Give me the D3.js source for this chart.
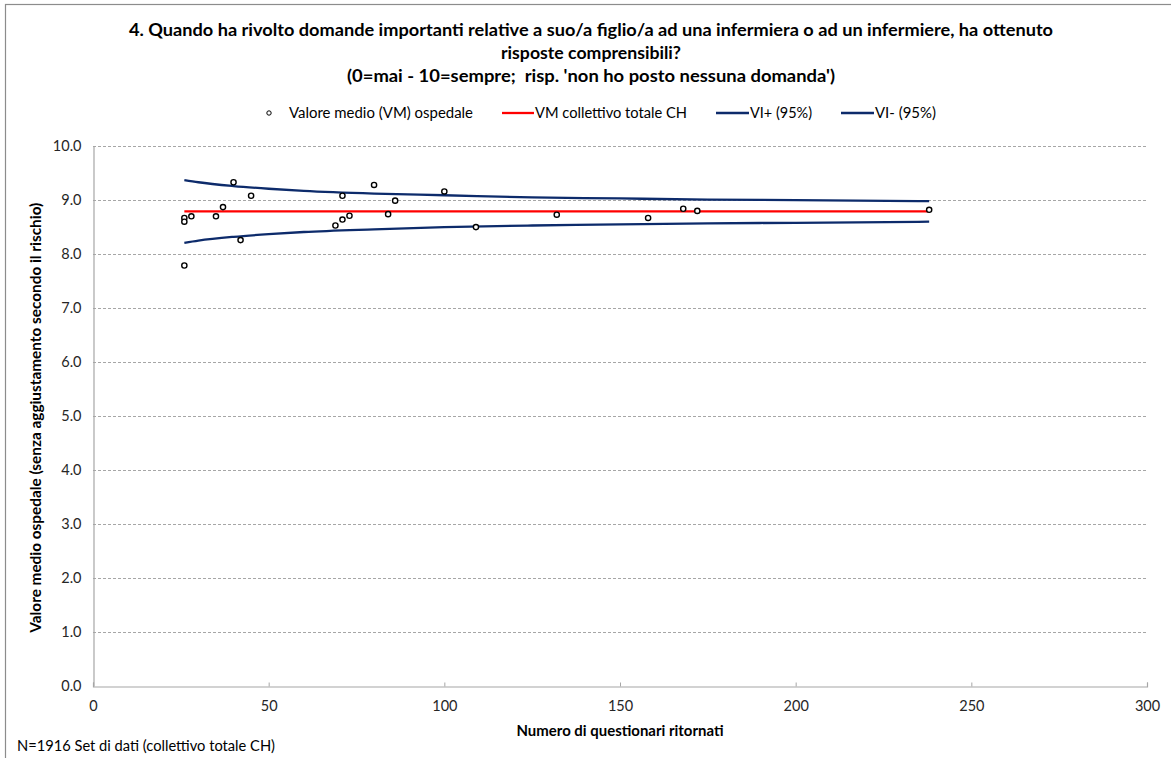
<!DOCTYPE html>
<html><head><meta charset="utf-8">
<script src="https://cdn.jsdelivr.net/npm/d3@7"></script>
<style>
html,body{margin:0;padding:0;background:#fff;}
svg{display:block;font-family:Lato,"Liberation Sans",Arial,sans-serif;}
text{white-space:pre;}
</style></head>
<body>
<svg id="chart" width="1171" height="758"></svg>
<script>
// Hospital points: number of questionnaires returned, mean value
const hospN   = [26, 26, 28, 35, 37, 40, 42, 45, 26, 69, 71, 71, 73, 80, 84, 86, 100, 109, 132, 158, 168, 172, 238];
const hospVal = [8.66, 8.59, 8.69, 8.69, 8.86, 9.32, 8.25, 9.07, 7.78, 8.52, 9.07, 8.63, 8.70, 9.27, 8.73, 8.98, 9.15, 8.49, 8.72, 8.66, 8.83, 8.79, 8.81];
// Overall mean (collettivo totale CH)
const meanN   = [26, 238];
const meanVal = [8.78, 8.78];
// Confidence limits
const ciN     = [26, 30, 40, 50, 60, 80, 100, 125, 150, 175, 200, 238];
const ciUpper = [9.36, 9.32, 9.25, 9.20, 9.16, 9.11, 9.08, 9.04, 9.02, 9.00, 8.99, 8.97];
const ciLower = [8.20, 8.24, 8.31, 8.36, 8.40, 8.45, 8.49, 8.52, 8.54, 8.56, 8.57, 8.59];
// Axis ticks
const xTicks = [0, 50, 100, 150, 200, 250, 300];
const yTicks = [0, 1, 2, 3, 4, 5, 6, 7, 8, 9, 10];

const titleLines = [
  "4. Quando ha rivolto domande importanti relative a suo/a figlio/a ad una infermiera o ad un infermiere, ha ottenuto",
  "risposte comprensibili?",
  "(0=mai - 10=sempre;  risp. 'non ho posto nessuna domanda')"
];
const legendLabels = ["Valore medio (VM) ospedale", "VM collettivo totale CH", "VI+ (95%)", "VI- (95%)"];

const svg = d3.select("#chart");
const m = {left: 93, right: 1147, top: 145.5, bottom: 686};
const x = d3.scaleLinear().domain([0, 300]).range([m.left, m.right]);
const y = d3.scaleLinear().domain([0, 10]).range([m.bottom, m.top]);

// outer chart border (left/top visible)
svg.append("rect").attr("x", 5.5).attr("y", 4.5).attr("width", 1200).attr("height", 800)
  .attr("fill", "none").attr("stroke", "#8c8c8c").attr("stroke-width", 1.2);

// title
const tw = [924, 180, 488];
svg.append("g").selectAll("text").data(titleLines).join("text")
  .attr("x", 591).attr("y", (d, i) => 36 + i * 23)
  .attr("text-anchor", "middle").attr("font-size", 16.5).attr("font-weight", "bold")
  .attr("fill", "#000")
  .attr("textLength", (d, i) => tw[i]).attr("lengthAdjust", "spacingAndGlyphs")
  .text(d => d);

// grid
svg.append("g").selectAll("line").data(yTicks.filter(d => d > 0)).join("line")
  .attr("x1", m.left).attr("x2", m.right)
  .attr("y1", d => Math.round(y(d)) + 0.5).attr("y2", d => Math.round(y(d)) + 0.5)
  .attr("stroke", "#a6a6a6").attr("stroke-dasharray", "3,2").attr("stroke-width", 1);

// axes
const xAxis = svg.append("g").attr("transform", `translate(0,${m.bottom + 0.5})`)
  .call(d3.axisBottom(x).tickValues(xTicks).tickSize(-4).tickPadding(14).tickFormat(d3.format("d")));
const yAxis = svg.append("g").attr("transform", `translate(${m.left + 0.5},0)`)
  .call(d3.axisLeft(y).tickValues(yTicks).tickSize(0).tickPadding(12).tickFormat(d3.format(".1f")));
[xAxis, yAxis].forEach(a => {
  a.select(".domain").attr("stroke", "#a6a6a6").attr("stroke-width", 1.2);
  a.selectAll(".tick line").attr("stroke", "#a6a6a6");
  a.selectAll(".tick text").attr("font-size", 14.5).attr("fill", "#262626")
    .attr("font-family", "Lato, 'Liberation Sans', Arial, sans-serif");
});

// axis titles
svg.append("text").attr("x", x(150)).attr("y", 736).attr("text-anchor", "middle")
  .attr("font-size", 15).attr("font-weight", "bold").attr("fill", "#000")
  .attr("textLength", 207).attr("lengthAdjust", "spacingAndGlyphs")
  .text("Numero di questionari ritornati");
svg.append("text").attr("transform", `translate(41,${(m.top + m.bottom) / 2 + 2}) rotate(-90)`)
  .attr("text-anchor", "middle").attr("font-size", 15).attr("font-weight", "bold").attr("fill", "#000")
  .attr("textLength", 430).attr("lengthAdjust", "spacingAndGlyphs")
  .text("Valore medio ospedale (senza aggiustamento secondo il rischio)");

// footnote
svg.append("text").attr("x", 17).attr("y", 751).attr("font-size", 14.5).attr("fill", "#000")
  .attr("textLength", 258).attr("lengthAdjust", "spacingAndGlyphs")
  .text("N=1916 Set di dati (collettivo totale CH)");

// CI lines
const line = d3.line().x(d => x(d[0])).y(d => y(d[1])).curve(d3.curveMonotoneX);
const navy = "#0d2b6b";
svg.append("path").datum(ciN.map((n, i) => [n, ciUpper[i]])).attr("d", line)
  .attr("fill", "none").attr("stroke", navy).attr("stroke-width", 2.3);
svg.append("path").datum(ciN.map((n, i) => [n, ciLower[i]])).attr("d", line)
  .attr("fill", "none").attr("stroke", navy).attr("stroke-width", 2.3);
// mean line
svg.append("path").datum(meanN.map((n, i) => [n, meanVal[i]])).attr("d", d3.line().x(d => x(d[0])).y(d => y(d[1])))
  .attr("fill", "none").attr("stroke", "#ff0000").attr("stroke-width", 2.3);

// points
svg.append("g").selectAll("circle").data(hospN.map((n, i) => [n, hospVal[i]])).join("circle")
  .attr("cx", d => x(d[0])).attr("cy", d => y(d[1])).attr("r", 2.6)
  .attr("fill", "#fff").attr("stroke", "#000").attr("stroke-width", 1.4);

// legend
const lg = svg.append("g").attr("font-size", 14.5).attr("fill", "#000");
lg.append("circle").attr("cx", 269).attr("cy", 113).attr("r", 2.2).attr("fill", "#fff").attr("stroke", "#000").attr("stroke-width", 1);
const lw = [184, 152, 62, 61];
lg.append("text").attr("x", 289).attr("y", 118).attr("textLength", lw[0]).attr("lengthAdjust", "spacingAndGlyphs").text(legendLabels[0]);
const lItems = [
  {x0: 502, x1: 534, color: "#ff0000", tx: 535, label: legendLabels[1], w: lw[1]},
  {x0: 716, x1: 749, color: navy, tx: 750, label: legendLabels[2], w: lw[2]},
  {x0: 841, x1: 874, color: navy, tx: 875, label: legendLabels[3], w: lw[3]}
];
lItems.forEach(it => {
  lg.append("line").attr("x1", it.x0).attr("x2", it.x1).attr("y1", 113).attr("y2", 113)
    .attr("stroke", it.color).attr("stroke-width", 2.3);
  lg.append("text").attr("x", it.tx).attr("y", 118)
    .attr("textLength", it.w).attr("lengthAdjust", "spacingAndGlyphs").text(it.label);
});
</script>
</body></html>
